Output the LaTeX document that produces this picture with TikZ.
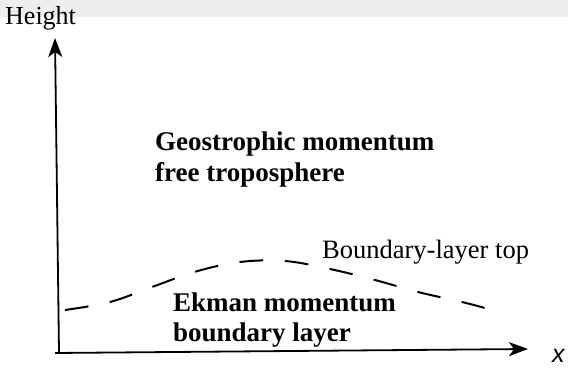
\documentclass[tikz,border=0pt]{standalone}
\usepackage{fontspec}
\setmainfont{Liberation Serif}
\newfontfamily\xsans{Liberation Sans}
\usetikzlibrary{arrows.meta}
\definecolor{bandgrey}{HTML}{EEEEEE}
\tikzset{
  axisline/.style={line width=1.8pt, -{Stealth[length=19pt,width=14pt,inset=5pt]}},
  bltop/.style={line width=2pt, dash pattern=on 23.7pt off 21.7pt},
  boldlabel/.style={anchor=base west, inner sep=0pt, font=\fontsize{27}{31}\selectfont\bfseries},
  plainlabel/.style={anchor=base west, inner sep=0pt, font=\fontsize{26.5}{30}\selectfont},
}
\begin{document}
\begin{tikzpicture}[x=1pt,y=-1pt]
\useasboundingbox (0,0) rectangle (568,371);
\fill[bandgrey] (0,0) rectangle (568,17);
% axes
\coordinate (origin) at (59,352.5);
\coordinate (ytip) at (55,38);
\coordinate (xstart) at (55,353);
\coordinate (xtip) at (528,349);
\draw[axisline] (origin) -- (ytip);
\draw[axisline] (xstart) -- (xtip);
% boundary-layer top
\draw[bltop] plot[smooth, tension=0.6] coordinates {(65,310) (110,302) (152,287) (196,271.5) (240,262) (285,261) (330,269) (375,280) (418,292) (462,302) (485,308)};
% labels
\node[plainlabel, font=\fontsize{26}{30}\selectfont] (height) at (5,25) {Height};
\node[anchor=base west, inner sep=0pt, font=\fontsize{25}{29}\selectfont\xsans\itshape] (xlabel) at (552,363) {x};
\node[boldlabel] (geo1) at (155,151) {Geostrophic momentum};
\node[boldlabel] (geo2) at (155,182) {free troposphere};
\node[plainlabel] (bltext) at (322,259) {Boundary-layer top};
\node[boldlabel] (ek1) at (173,312) {Ekman momentum};
\node[boldlabel] (ek2) at (173,342) {boundary layer};
\end{tikzpicture}
\end{document}
